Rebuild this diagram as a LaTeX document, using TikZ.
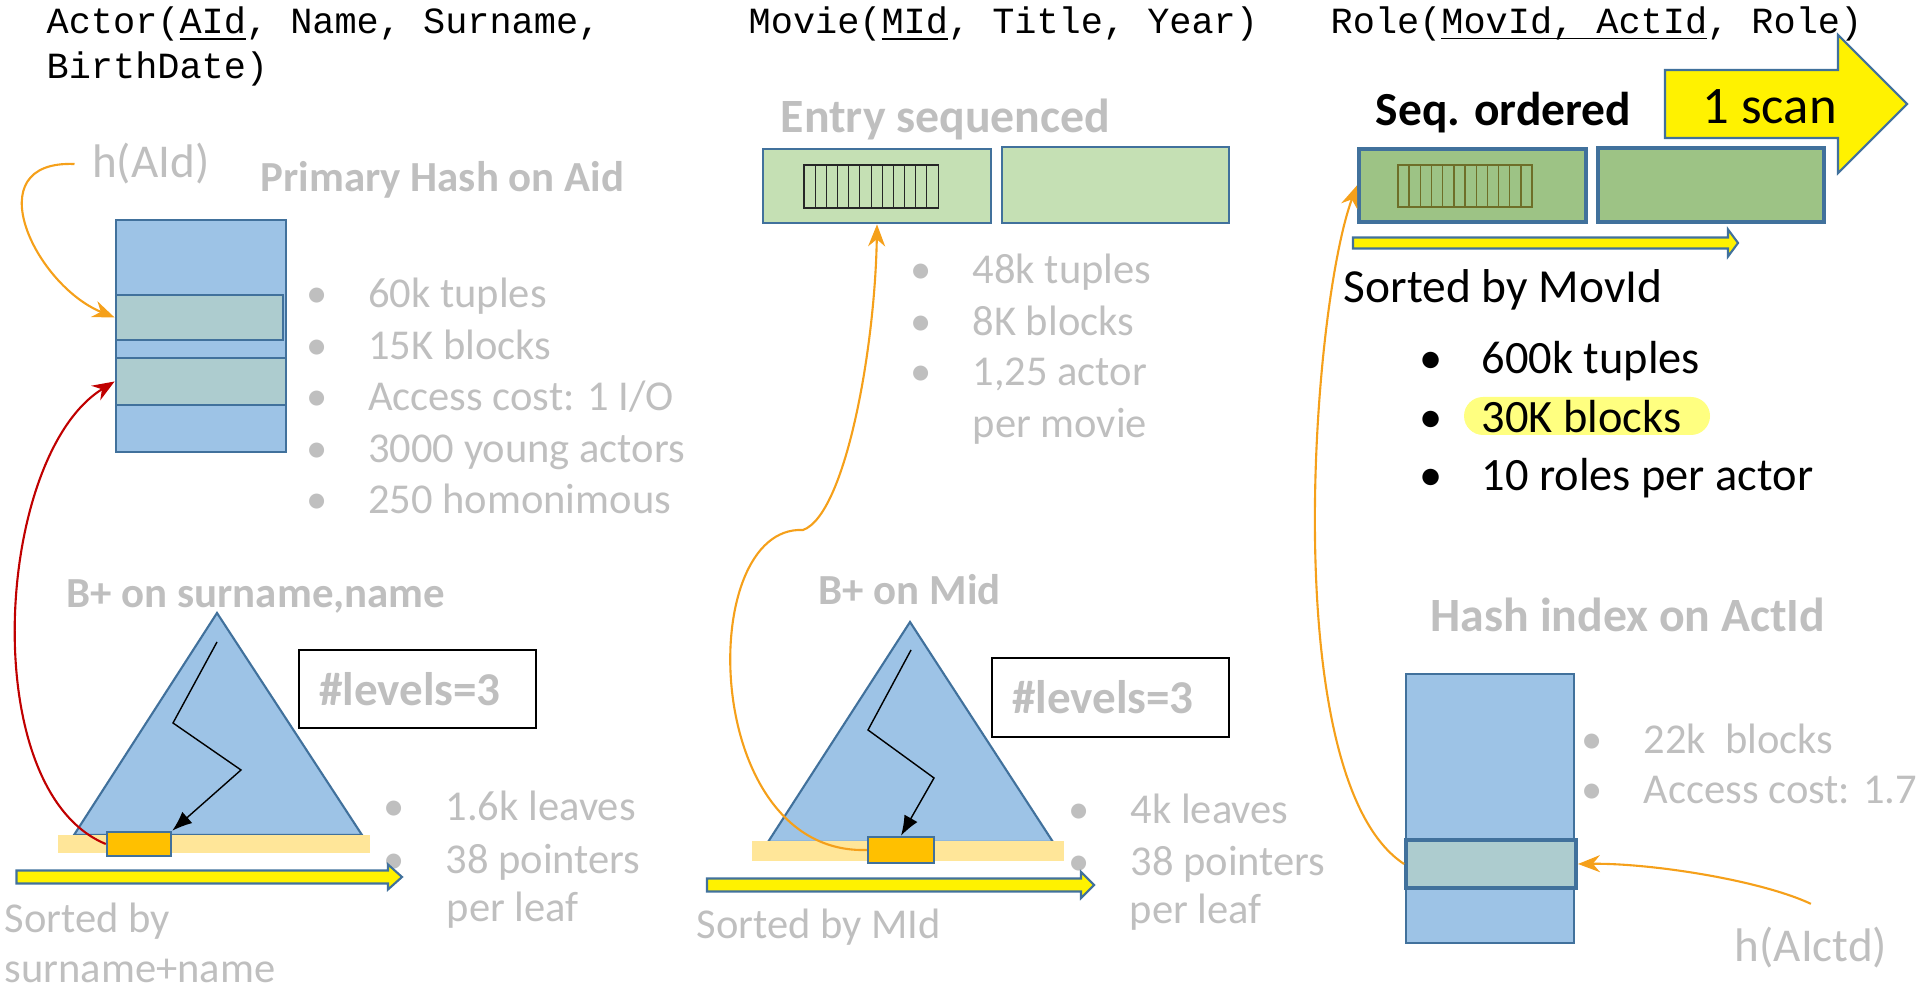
\documentclass[tikz,border=0pt]{standalone}
\usepackage{fontspec}
\setmainfont{Carlito}
\newfontfamily\codefont{Liberation Mono}
\usetikzlibrary{arrows.meta}
\definecolor{txtgray}{HTML}{BFBFBF}
\definecolor{boxblue}{HTML}{9DC3E6}
\definecolor{edgeblue}{HTML}{41719C}
\definecolor{rowteal}{HTML}{ADCCCF}
\definecolor{palegreen}{HTML}{C5E0B4}
\definecolor{darkgreen}{HTML}{9DC385}
\definecolor{leafyellow}{HTML}{FFE699}
\definecolor{leaforange}{HTML}{FFC000}
\definecolor{curveorange}{HTML}{F5A01A}
\definecolor{curvered}{HTML}{C00000}
\definecolor{hiyellow}{HTML}{FFFF80}
\definecolor{cellolive}{HTML}{6E6E28}
\newcommand{\bul}{\makebox[6.2mm][l]{\textbullet}}

\begin{document}
\begin{tikzpicture}[scale=1,
	schema/.style={inner sep=0, anchor=base west, font=\codefont\fontsize{10.5}{12}\selectfont},
	gtxt/.style={inner sep=0, anchor=base west, text=txtgray, font=\fontsize{12.1}{14}\selectfont},
	ghead/.style={inner sep=0, anchor=base west, text=txtgray, font=\bfseries\fontsize{12.2}{14}\selectfont},
	btxt/.style={inner sep=0, anchor=base west, font=\fontsize{13.2}{15}\selectfont},
	hashbox/.style={draw=edgeblue, fill=boxblue, line width=0.8pt, inner sep=0},
	hashrow/.style={draw=edgeblue, fill=rowteal, line width=0.8pt, inner sep=0},
	btree/.style={draw=edgeblue, fill=boxblue, line width=0.6pt},
	leafbox/.style={draw=edgeblue, fill=leaforange, line width=0.7pt, inner sep=0},
	lvlbox/.style={draw, line width=0.6pt, text=txtgray, font=\bfseries\fontsize{13.4}{16}\selectfont,
		minimum height=0.78cm, text width=1.97cm, inner xsep=0.2cm, align=left},
	blockA/.style={draw=edgeblue, fill=palegreen, line width=0.8pt, inner sep=0},
	blockB/.style={draw=edgeblue, fill=darkgreen, line width=1.2pt, inner sep=0},
	scanarrow/.style={draw=edgeblue, fill=yellow, line width=0.6pt},
	oarrow/.style={draw=curveorange, line width=0.6pt, -{Stealth[length=2.2mm,width=1.7mm]}},
	rarrow/.style={draw=curvered, line width=0.6pt, -{Stealth[length=2.2mm,width=1.7mm]}},
	walk/.style={line width=0.4pt, -{Latex[length=2mm,width=1.5mm]}}]
			\useasboundingbox (0,0) rectangle (19.18,10);
			% schemas
			\node[schema] (actorA) at (0.46,9.665) {Actor(\underline{AId}, Name, Surname,};
			\node[schema] (actorB) at (0.46,9.21) {BirthDate)};
			\node[schema] (movie) at (7.48,9.665) {Movie(\underline{MId}, Title, Year)};
			\node[schema] (role) at (13.30,9.665) {Role(\underline{\smash{MovId, ActId}}, Role)};
			% actor: primary hash
			\node[gtxt, font=\fontsize{13.4}{16}\selectfont] (hAId) at (0.915,8.22) {h(AId)};
			\node[ghead] (hashAtitle) at (2.60,8.08) {Primary Hash on Aid};
			\node[hashbox, minimum width=1.70cm, minimum height=2.32cm] (hashA) at (2.01,6.64) {};
			\node[hashrow, minimum width=1.67cm, minimum height=0.45cm] (arow1) at (1.995,6.825) {};
			\node[hashrow, minimum width=1.70cm, minimum height=0.47cm] (arow2) at (2.01,6.185) {};
			\node[gtxt] (alist1) at (3.055,6.92) {\bul 60k tuples};
			\node[gtxt] (alist2) at (3.055,6.40) {\bul 15K blocks};
			\node[gtxt] (alist3) at (3.055,5.89) {\bul Access cost: 1 I/O};
			\node[gtxt] (alist4) at (3.055,5.37) {\bul 3000 young actors};
			\node[gtxt] (alist5) at (3.055,4.86) {\bul 250 homonimous};
			% actor: B+ tree
			\node[ghead] (btAtitle) at (0.66,3.92) {B+ on surname,name};
			\draw[btree] (0.74,1.65) -- (2.17,3.87) -- (3.62,1.65) -- cycle;
			\fill[leafyellow] (0.58,1.47) rectangle (3.70,1.65);
			\node[leafbox, minimum width=0.64cm, minimum height=0.24cm] (obA) at (1.39,1.56) {};
			\coordinate (zigA) at (2.17,3.58);
			\draw[walk] (zigA) -- (1.73,2.77) -- (2.41,2.30) -- (obA.north east);
			\node[lvlbox, minimum width=2.37cm] (levA) at (4.175,3.11) {\#levels=3};
			\node[gtxt] (blist1) at (3.83,1.79) {\bul 1.6k leaves};
			\node[gtxt] (blist2) at (3.83,1.26) {\bul 38 pointers};
			\node[gtxt] (blist3) at (4.46,0.78) {per leaf};
			\draw[scanarrow] (0.165,1.295) -- (3.88,1.295) -- (3.88,1.355) -- (4.02,1.23) -- (3.88,1.105) -- (3.88,1.165) -- (0.165,1.165) -- cycle;
			\node[gtxt] (sortA1) at (0.04,0.67) {Sorted by};
			\node[gtxt] (sortA2) at (0.04,0.17) {surname+name};
			% movie: entry sequenced
			\node[ghead, font=\bfseries\fontsize{13.6}{16}\selectfont] (entrytitle) at (7.80,8.67) {Entry sequenced};
			\node[blockA, minimum width=2.28cm, minimum height=0.74cm] (gboxA) at (8.77,8.14) {};
			\node[blockA, minimum width=2.27cm, minimum height=0.76cm] (gboxB) at (11.155,8.15) {};
			\foreach \i in {0,...,11}
				\draw[black!85, line width=0.3pt] (8.04+\i*0.1117,7.92) rectangle ++(0.1117,0.43);
			\node[gtxt] (mlist1) at (9.10,7.16) {\bul 48k tuples};
			\node[gtxt] (mlist2) at (9.10,6.64) {\bul 8K blocks};
			\node[gtxt] (mlist3) at (9.10,6.14) {\bul 1,25 actor};
			\node[gtxt] (mlist4) at (9.72,5.62) {per movie};
			% movie: B+ tree
			\node[ghead] (btBtitle) at (8.18,3.95) {B+ on Mid};
			\draw[btree] (7.68,1.58) -- (9.10,3.78) -- (10.53,1.58) -- cycle;
			\fill[leafyellow] (7.52,1.39) rectangle (10.64,1.59);
			\node[leafbox, minimum width=0.66cm, minimum height=0.26cm] (obB) at (9.01,1.50) {};
			\coordinate (zigB) at (9.11,3.50);
			\draw[walk] (zigB) -- (8.68,2.70) -- (9.34,2.22) -- (obB.north);
			\node[lvlbox, minimum width=2.37cm, minimum height=0.79cm] (levB) at (11.105,3.025) {\#levels=3};
			\node[gtxt] (nlist1) at (10.68,1.76) {\bul 4k leaves};
			\node[gtxt] (nlist2) at (10.68,1.24) {\bul 38 pointers};
			\node[gtxt] (nlist3) at (11.29,0.76) {per leaf};
			\draw[scanarrow] (7.07,1.215) -- (10.81,1.215) -- (10.81,1.28) -- (10.94,1.15) -- (10.81,1.02) -- (10.81,1.085) -- (7.07,1.085) -- cycle;
			\node[gtxt] (sortB) at (6.96,0.61) {Sorted by MId};
			\coordinate (mbend) at (8.03,4.70);
			\draw[oarrow] (obB.west) .. controls (7.0,1.45) and (6.95,4.75) .. (mbend) .. controls (8.45,4.85) and (8.75,6.5) .. (gboxA.south);
			% role: sequentially ordered
			\draw[scanarrow] (16.65,9.30) -- (18.38,9.30) -- (18.38,9.65) -- (19.07,8.96) -- (18.38,8.27) -- (18.38,8.62) -- (16.65,8.62) -- cycle;
			\node[btxt, font=\fontsize{15}{18}\selectfont] (scan) at (17.02,8.76) {1 scan};
			\node[btxt, font=\bfseries\fontsize{13.5}{16}\selectfont] (seqtitle) at (13.75,8.74) {Seq. ordered};
			\node[blockB, minimum width=2.27cm, minimum height=0.73cm] (gboxC) at (14.725,8.145) {};
			\node[blockB, minimum width=2.26cm, minimum height=0.74cm] (gboxD) at (17.11,8.15) {};
			\foreach \i in {0,...,11}
				\draw[cellolive, line width=0.4pt] (13.98+\i*0.1117,7.93) rectangle ++(0.1117,0.42);
			\draw[scanarrow] (13.53,7.625) -- (17.28,7.625) -- (17.28,7.705) -- (17.38,7.57) -- (17.28,7.435) -- (17.28,7.515) -- (13.53,7.515) -- cycle;
			\node[btxt, font=\fontsize{13.5}{16}\selectfont] (sortC) at (13.43,6.97) {Sorted by MovId};
			\fill[hiyellow, rounded corners=0.19cm] (14.64,5.65) rectangle (17.10,6.03);
			\node[btxt] (rlist1) at (14.19,6.26) {\bul 600k tuples};
			\node[btxt] (rlist2) at (14.19,5.67) {\bul 30K blocks};
			\node[btxt] (rlist3) at (14.19,5.09) {\bul 10 roles per actor};
			% role: hash index
			\node[ghead, font=\bfseries\fontsize{13.6}{16}\selectfont] (hashBtitle) at (14.30,3.68) {Hash index on ActId};
			\node[hashbox, minimum width=1.68cm, minimum height=2.69cm] (hashB) at (14.90,1.915) {};
			\node[hashrow, line width=1.1pt, minimum width=1.70cm, minimum height=0.48cm] (brow) at (14.91,1.36) {};
			\node[gtxt] (hlist1) at (15.81,2.46) {\bul 22k\ \ blocks};
			\node[gtxt] (hlist2) at (15.81,1.96) {\bul Access cost: 1.7};
			\node[gtxt, font=\fontsize{13.4}{16}\selectfont] (hAIctd) at (17.34,0.38) {h(AIctd)};
			% pointers
			\draw[oarrow] ([xshift=-1.7mm]hAId.west) .. controls (-0.25,8.40) and (0.35,7.15) .. (arow1.west);
			\draw[rarrow] (obA.west) .. controls (-0.25,2.1) and (-0.05,5.45) .. (arow2.west);
			\draw[oarrow] ([yshift=2.3mm]hAIctd.north) .. controls (17.6,1.2) and (16.5,1.37) .. (brow.east);
			\draw[oarrow] (brow.west) .. controls (12.76,2.2) and (13.12,6.93) .. (gboxC.west);
		\end{tikzpicture}
\end{document}
